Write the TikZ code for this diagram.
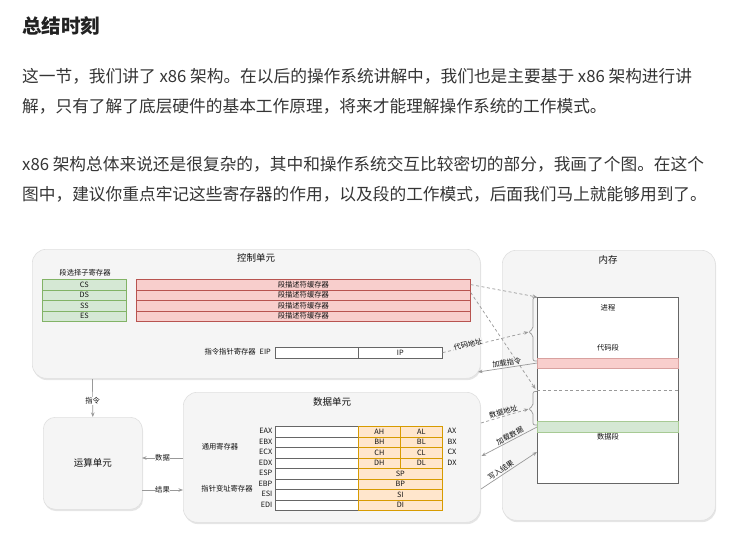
\documentclass[tikz,border=0pt]{standalone}
\usepackage{fontspec}
\setmainfont{Noto Sans CJK SC}
\usetikzlibrary{arrows.meta,shadows,calc}
\definecolor{hdr}{HTML}{222222}
\definecolor{para}{HTML}{353535}
\definecolor{boxfill}{HTML}{F5F5F5}
\definecolor{boxline}{HTML}{E0E0E0}
\definecolor{dtext}{HTML}{111111}
\definecolor{gfill}{HTML}{D5E8D4}
\definecolor{gline}{HTML}{82B366}
\definecolor{pfill}{HTML}{F8CECC}
\definecolor{pline}{HTML}{B85450}
\definecolor{ofill}{HTML}{FFE6CC}
\definecolor{oline}{HTML}{D79B00}
\definecolor{cline}{HTML}{666666}
\definecolor{aline}{HTML}{999999}
\begin{document}
\begin{tikzpicture}[x=1pt,y=-1pt,
  unit/.style={draw=boxline, fill=boxfill, rounded corners=14pt, anchor=north west, inner sep=0, line width=0.6pt,
    drop shadow={opacity=0.2, shadow xshift=0.8pt, shadow yshift=-1.8pt}},
  ttl/.style={font=\fontsize{9.5}{10}\selectfont, text=dtext, inner sep=0},
  sm/.style={font=\fontsize{7.3}{8}\selectfont, text=dtext, inner sep=0},
  lbl/.style={font=\fontsize{7.3}{8}\selectfont, text=dtext, inner sep=0.5pt},
  cell/.style={draw, anchor=north west, minimum height=10.5pt, inner sep=0, font=\fontsize{7.3}{8}\selectfont, text=dtext, line width=0.7pt},
  gcell/.style={cell, fill=gfill, draw=gline, minimum width=84pt},
  pcell/.style={cell, fill=pfill, draw=pline, minimum width=334pt},
  wcell/.style={cell, fill=white, draw=cline, minimum width=83pt},
  ohalf/.style={cell, fill=ofill, draw=oline, minimum width=42pt},
  ofull/.style={cell, fill=ofill, draw=oline, minimum width=84pt},
  paraline/.style={anchor=west, inner sep=0, font=\fontsize{16.7}{18}\selectfont, text=para},
  arr/.style={draw=aline, line width=0.7pt, -{Stealth[length=4.5pt,width=3.5pt]}},
  darr/.style={arr, dash pattern=on 3pt off 2.5pt},
  brace/.style={draw=aline, line width=0.7pt, rounded corners=2pt}
]
\useasboundingbox[fill=white] (0,0) rectangle (745,552);

% ---------- text ----------
\node[anchor=west, inner sep=0, font=\fontsize{19.5}{21}\selectfont\bfseries, text=hdr] (title) at (22,26) {总结时刻};
\node[paraline] (l1) at (22,76) {这一节，我们讲了 x86 架构。在以后的操作系统讲解中，我们也是主要基于 x86 架构进行讲};
\node[paraline] (l2) at (22,106) {解，只有了解了底层硬件的基本工作原理，将来才能理解操作系统的工作模式。};
\node[paraline] (l3) at (22,164) {x86 架构总体来说还是很复杂的，其中和操作系统交互比较密切的部分，我画了个图。在这个};
\node[paraline] (l4) at (22,194) {图中，建议你重点牢记这些寄存器的作用，以及段的工作模式，后面我们马上就能够用到了。};

% ---------- units ----------
\node[unit, minimum width=448pt, minimum height=129pt] (cu) at (32,249) {};
\node[unit, minimum width=213pt, minimum height=270pt] (mem) at (502,250) {};
\node[unit, minimum width=297pt, minimum height=130pt] (du) at (183,392) {};
\node[unit, rounded corners=12pt, minimum width=99pt, minimum height=92pt] (alu) at (43,417) {};

\node[ttl] (cut) at (256,258) {控制单元};
\node[ttl] (memt) at (608,260) {内存};
\node[ttl] (dut) at (332,402) {数据单元};
\node[ttl] (alut) at (alu.center) {运算单元};

% ---------- control unit content ----------
\node[sm] (selt) at (85,273) {段选择子寄存器};
\foreach \n [count=\i from 0] in {CS,DS,SS,ES} {
  \node[gcell] (g\i) at (42,{279+10.5*\i}) {\n};
  \node[pcell] (p\i) at (136,{279+10.5*\i}) {段描述符缓存器};
}
\node[sm, anchor=east] (eipt) at (271,352) {指令指针寄存器\hspace{4pt}EIP};
\node[cell, fill=white, draw=cline, minimum width=83pt] (eipL) at (275,347) {};
\node[cell, fill=white, draw=cline, minimum width=84pt] (eipR) at (358,347) {IP};

% ---------- data unit content ----------
\node[sm] (gpt) at (220,447) {通用寄存器};
\node[sm] (ptt) at (227,489) {指针变址寄存器};
\foreach \n [count=\i from 0] in {EAX,EBX,ECX,EDX,ESP,EBP,ESI,EDI} {
  \node[wcell] (w\i) at (275,{426+10.5*\i}) {};
  \node[sm, anchor=east] (wl\i) at (272.5,{431.25+10.5*\i}) {\n};
}
\foreach \a/\b/\x [count=\i from 0] in {AH/AL/AX,BH/BL/BX,CH/CL/CX,DH/DL/DX} {
  \node[ohalf] (oh\i) at (358,{426+10.5*\i}) {\a};
  \node[ohalf] (ol\i) at (400,{426+10.5*\i}) {\b};
  \node[sm] (ox\i) at (452,{431.25+10.5*\i}) {\x};
}
\foreach \a [count=\i from 4] in {SP,BP,SI,DI} {
  \node[ofull] (of\i) at (358,{426+10.5*\i}) {\a};
}

% ---------- memory content ----------
\node[draw=cline, fill=white, anchor=north west, minimum width=141pt, minimum height=186pt, inner sep=0, line width=0.7pt] (proc) at (537,297) {};
\node[draw=pline!55, fill=pfill, anchor=north west, minimum width=141pt, minimum height=10.5pt, inner sep=0, line width=0.6pt] (codeseg) at (537,357.5) {};
\node[draw=gline!70, fill=gfill, anchor=north west, minimum width=141pt, minimum height=10.5pt, inner sep=0, line width=0.6pt] (dataseg) at (537,421) {};
\coordinate (dlL) at (537,390);
\coordinate (dlR) at (678,390);
\draw[aline, line width=0.7pt, dash pattern=on 3pt off 2.5pt] (dlL) -- (dlR);
\node[sm] (proct) at (608,308) {进程};
\node[sm] (codet) at (608,348) {代码段};
\node[sm] (datat) at (608,437) {数据段};

% braces
\coordinate (b1) at (528.5,332);
\coordinate (b2) at (528.5,409);
\draw[brace] (537,297.5) -- (533,297.5) -- (533,329) -- (b1) -- (533,335) -- (533,361) -- (537,361);
\draw[brace] (537,391.5) -- (533,391.5) -- (533,406) -- (b2) -- (533,412) -- (533,425) -- (537,425);

% ---------- connectors ----------
\coordinate (dlend) at (535.5,389);
\coordinate (cuR) at (478,372);
\coordinate (duA) at (481,423);
\coordinate (duB) at (481.5,456);
\coordinate (duC) at (481,489);
\coordinate (memB) at (537,452);
\coordinate (dsL) at (537,427);

\draw[darr] (p0.east) -- (proc.north west);
\draw[darr] ($(p1.north east)+(0,3)$) -- (dlend);
\draw[darr] (eipR.east) -- node[lbl, pos=0.3, sloped, fill=boxfill, yshift=2pt] {代码地址} (b1);
\draw[arr] (codeseg.west) -- node[lbl, sloped, above=0.5pt] {加载指令} (cuR);
\draw[darr] (duA) -- node[lbl, sloped, above=0.5pt] {数据地址} (b2);
\draw[arr] (dsL) -- node[lbl, sloped, above=0.5pt, pos=0.45] {加载数据} (duB);
\draw[arr] (duC) -- node[lbl, sloped, above=0.5pt, pos=0.4] {写入结果} (memB);

\coordinate (cuB) at (92.5,379);
\draw[arr] (cuB) -- node[lbl, fill=white, pos=0.58] {指令} (alu.north);
\coordinate (duD) at (183,458);
\coordinate (aluD) at (142,458);
\coordinate (duE) at (183,490);
\coordinate (aluE) at (142,490);
\draw[arr] (duD) -- node[lbl, fill=white] {数据} (aluD);
\draw[arr] (aluE) -- node[lbl, fill=white] {结果} (duE);
\end{tikzpicture}
\end{document}
